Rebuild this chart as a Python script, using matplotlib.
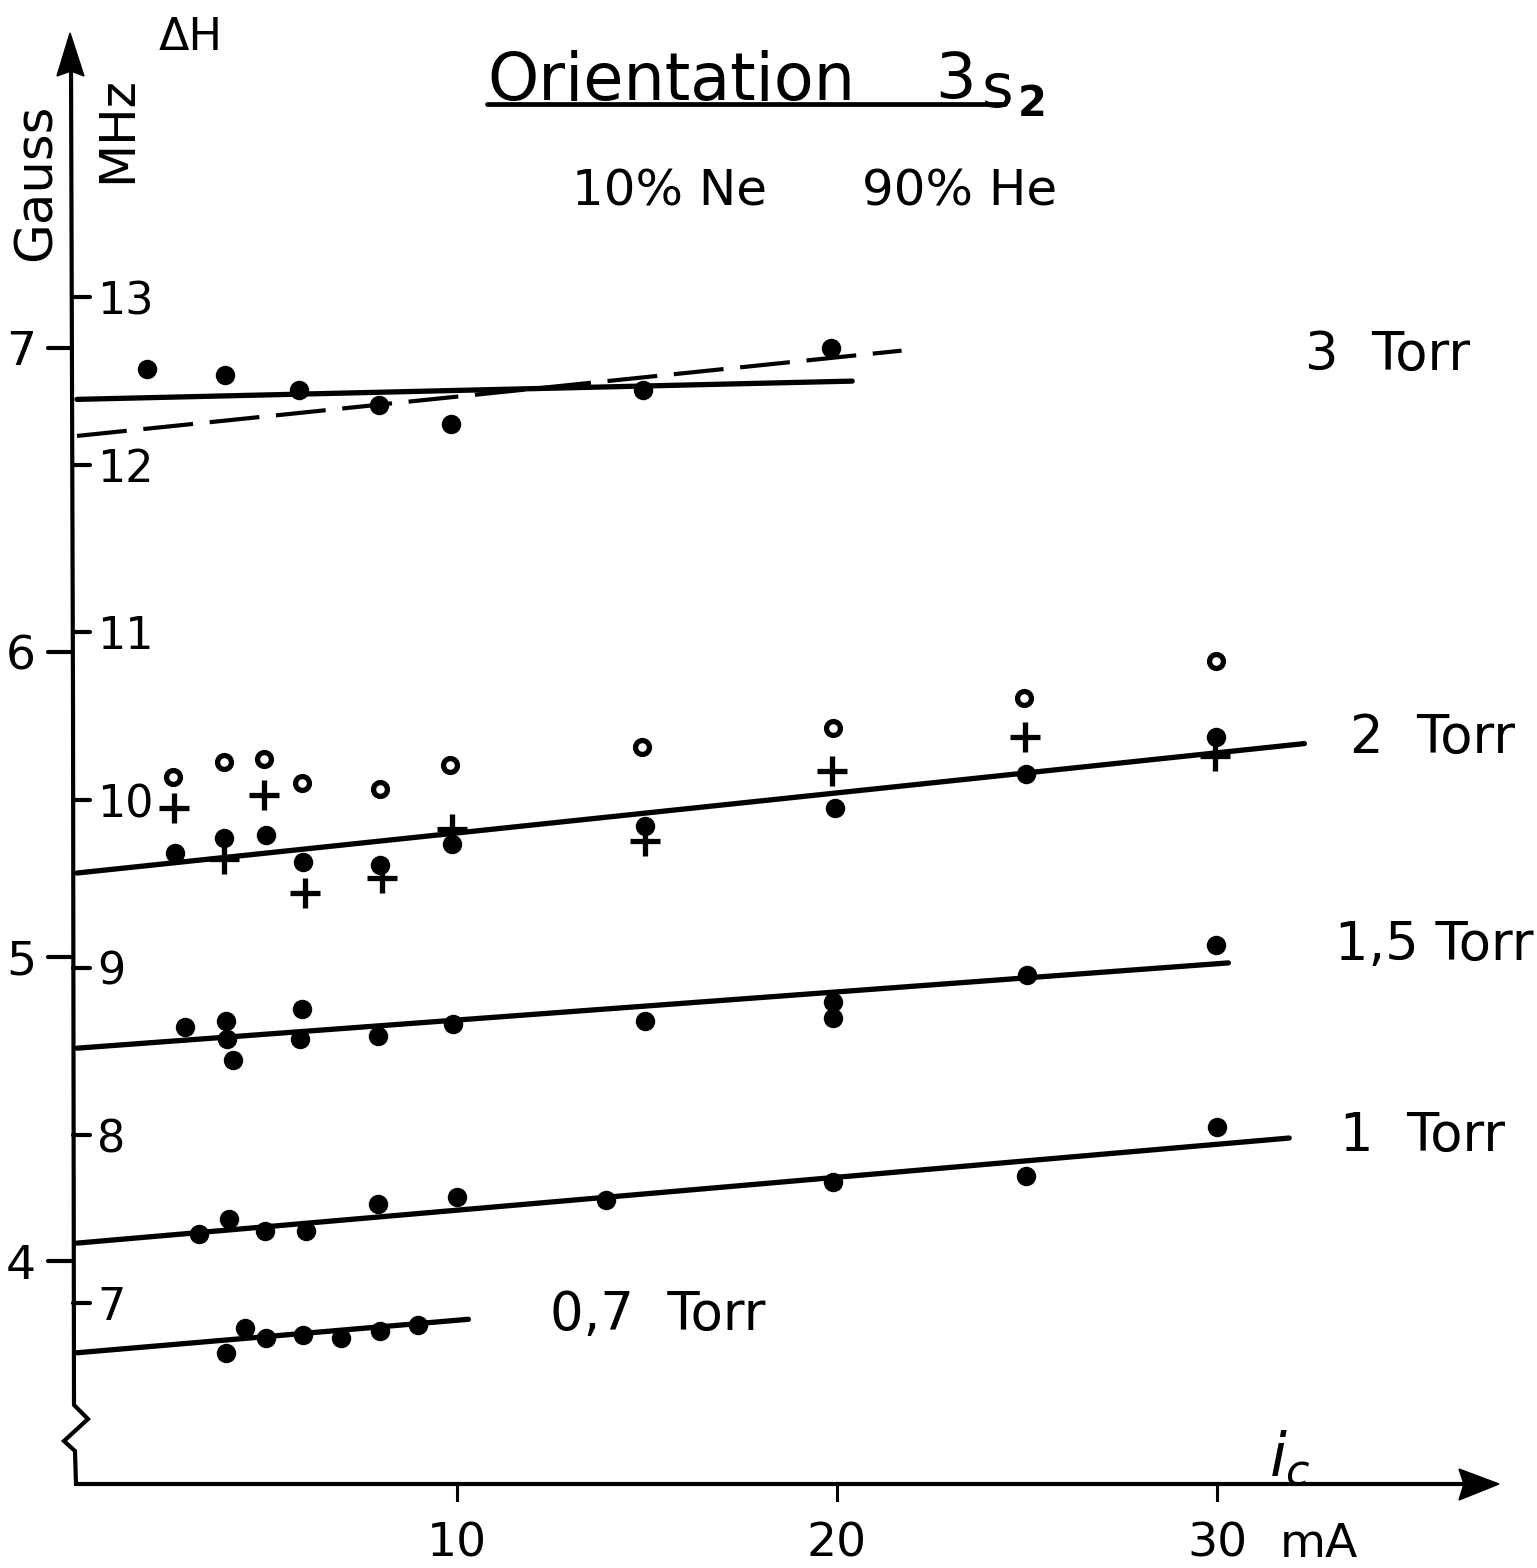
import matplotlib
matplotlib.use("Agg")
import matplotlib.pyplot as plt
from matplotlib.patches import Polygon
from matplotlib.lines import Line2D

W, H = 1537, 1568

# ---------------- data (current in mA, line width dH in Gauss) ----------------
current_3torr = [1.85, 3.9, 5.85, 7.95, 9.85, 14.9, 19.85]
dh_3torr = [6.93, 6.91, 6.86, 6.81, 6.75, 6.86, 7.00]
fit_3torr_x = [0, 20.4]
fit_3torr_y = [6.83, 6.89]
fit_3torr_dash_x = [0, 21.7]
fit_3torr_dash_y = [6.71, 6.99]

current_2torr_dot = [2.58, 3.87, 4.97, 5.95, 7.97, 9.87, 14.95, 19.95, 24.97, 29.97]
dh_2torr_dot = [5.34, 5.39, 5.40, 5.31, 5.30, 5.37, 5.43, 5.49, 5.60, 5.72]
current_2torr_plus = [2.55, 3.87, 4.92, 6.0, 8.03, 9.87, 14.95, 19.87, 24.95, 29.95]
dh_2torr_plus = [5.49, 5.32, 5.53, 5.21, 5.26, 5.42, 5.38, 5.61, 5.72, 5.66]
current_2torr_open = [2.53, 3.87, 4.92, 5.92, 7.97, 9.82, 14.87, 19.89, 24.92, 29.97]
dh_2torr_open = [5.59, 5.64, 5.65, 5.57, 5.55, 5.63, 5.69, 5.75, 5.85, 5.97]
fit_2torr_x = [0, 32.3]
fit_2torr_y = [5.275, 5.70]

current_15torr = [2.84, 3.92, 3.95, 4.1, 5.92, 5.87, 7.92, 9.89, 14.95, 19.89, 19.89, 25.0, 29.97]
dh_15torr = [4.77, 4.79, 4.73, 4.66, 4.83, 4.73, 4.74, 4.78, 4.79, 4.85, 4.80, 4.94, 5.04]
fit_15torr_x = [0, 30.3]
fit_15torr_y = [4.70, 4.98]

current_1torr = [3.21, 4.0, 4.95, 6.03, 7.92, 10.0, 13.92, 19.89, 24.97, 30.0]
dh_1torr = [4.09, 4.14, 4.10, 4.10, 4.19, 4.21, 4.20, 4.26, 4.28, 4.44]
fit_1torr_x = [0, 31.9]
fit_1torr_y = [4.06, 4.405]

current_07torr = [3.92, 4.42, 4.97, 5.95, 6.95, 7.97, 8.97]
dh_07torr = [3.70, 3.78, 3.75, 3.76, 3.75, 3.77, 3.79]
fit_07torr_x = [0, 10.3]
fit_07torr_y = [3.70, 3.81]

gauss_ticks = [4, 5, 6, 7]
mhz_ticks = [7, 8, 9, 10, 11, 12, 13]
x_ticks = [10, 20, 30]
x_tick_labels = ["10", "20", "30"]

torr_labels = ["3  Torr", "2  Torr", "1,5 Torr", "1  Torr", "0,7  Torr"]


def mhz_to_gauss(m):
    return 3.863 + 0.5505 * (m - 7)


# --------------- layout helpers (pixel -> data) ----------------
X0, XS = 77.0, 38.0
def dx(px):
    return (px - X0) / XS
def gy(py):
    return 5.5 + (804.5 - py) / 304.6

FONT = "DejaVu Sans"
plt.rcParams["font.family"] = [FONT]

fig = plt.figure(figsize=(W / 100, H / 100), dpi=100)
ax = fig.add_axes([X0 / W, 1 - 1484 / H, (1497 - X0) / W, (1484 - 35) / H])
ax.set_xlim(0, dx(1497))
ax.set_ylim(gy(1484), gy(35))
ax.axis("off")

LW = 3.8
AXW = 3.0
K = "black"

# --------------- axes with break and arrows ----------------
ax.plot([dx(71), dx(73), dx(74), dx(88), dx(64), dx(75), dx(76), dx(1470)],
        [gy(60), gy(700), gy(1405), gy(1419), gy(1441), gy(1451), gy(1484), gy(1484)],
        color=K, lw=AXW, clip_on=False, solid_joinstyle="miter", solid_capstyle="butt")
ax.add_patch(Polygon([(dx(70), gy(33)), (dx(57), gy(76)), (dx(71), gy(71)), (dx(84), gy(76))],
                     closed=True, color=K, clip_on=False))
ax.add_patch(Polygon([(dx(1499), gy(1484)), (dx(1459), gy(1469)), (dx(1464), gy(1484)),
                      (dx(1459), gy(1500))], closed=True, color=K, clip_on=False))

# ticks
for g in gauss_ticks:
    ax.plot([dx(48), dx(72)], [g, g], color=K, lw=AXW, clip_on=False, solid_capstyle="round")
    ax.text(dx(21), g, str(g), ha="center", va="center_baseline", fontsize=34, color=K)
for m in mhz_ticks:
    g = mhz_to_gauss(m)
    ax.plot([dx(73), dx(90)], [g, g], color=K, lw=AXW, clip_on=False, solid_capstyle="round")
    ax.text(dx(97), g, str(m), ha="left", va="center_baseline", fontsize=32, color=K)
for t, lab in zip(x_ticks, x_tick_labels):
    ax.plot([t, t], [gy(1484), gy(1500)], color=K, lw=2.2, clip_on=False)
    ax.text(t, gy(1557), lab, ha="center", va="baseline", fontsize=34, color=K)
ax.text(dx(1280), gy(1557), "mA", ha="left", va="baseline", fontsize=34, color=K)

# --------------- data marks ----------------
line_kw = dict(color=K, lw=LW, solid_capstyle="round", clip_on=False)
ax.plot(fit_3torr_x, fit_3torr_y, **line_kw)
ax.plot(fit_3torr_dash_x, fit_3torr_dash_y, color=K, lw=3.0, dashes=(12, 4), clip_on=False)
ax.plot(fit_2torr_x, fit_2torr_y, **line_kw)
ax.plot(fit_15torr_x, fit_15torr_y, **line_kw)
ax.plot(fit_1torr_x, fit_1torr_y, **line_kw)
ax.plot(fit_07torr_x, fit_07torr_y, **line_kw)

dot_kw = dict(ls="none", marker="o", ms=14, mfc=K, mec=K, mew=0, clip_on=False)
ax.plot(current_3torr, dh_3torr, **dot_kw)
ax.plot(current_2torr_dot, dh_2torr_dot, **dot_kw)
ax.plot(current_15torr, dh_15torr, **dot_kw)
ax.plot(current_1torr, dh_1torr, **dot_kw)
ax.plot(current_07torr, dh_07torr, **dot_kw)
ax.plot(current_2torr_plus, dh_2torr_plus, ls="none", marker="+", ms=21, mew=3.8, color=K, clip_on=False)
ax.plot(current_2torr_open, dh_2torr_open, ls="none", marker="o", ms=10, mfc="white", mec=K,
        mew=3.8, clip_on=False)

# --------------- labels ----------------
def ftext(x, y, s, **kw):
    fig.text(x / W, 1 - y / H, s, color=K, **kw)

ftext(487, 100, "Orientation", fontsize=47, ha="left", va="baseline")
ftext(935, 98, "3", fontsize=46, ha="left", va="baseline")
ftext(982, 107, "s", fontsize=44, ha="left", va="baseline")
ftext(1018, 116, "2", fontsize=30, ha="left", va="baseline", fontweight="bold")
fig.add_artist(Line2D([487 / W, 1005 / W], [1 - 104 / H, 1 - 104 / H], color=K, lw=3.4,
                      solid_capstyle="round"))
ftext(572, 205, "10% Ne", fontsize=36, ha="left", va="baseline")
ftext(862, 205, "90% He", fontsize=36, ha="left", va="baseline")

ftext(191, 50, "ΔH", fontsize=32, ha="center", va="baseline")
ftext(117, 130, "MHz", fontsize=36, ha="center", va="center", rotation=90)
ftext(37, 182, "Gauss", fontsize=37, ha="center", va="center", rotation=90)
ftext(1290, 1477, "$i_c$", fontsize=44, ha="center", va="baseline")

torr_pos = [(1305, 370), (1350, 753), (1335, 960), (1340, 1151), (550, 1330)]
for lab, (x, y) in zip(torr_labels, torr_pos):
    ftext(x, y, lab, fontsize=38, ha="left", va="baseline")

fig.savefig("out.png", dpi=100, facecolor="white")
